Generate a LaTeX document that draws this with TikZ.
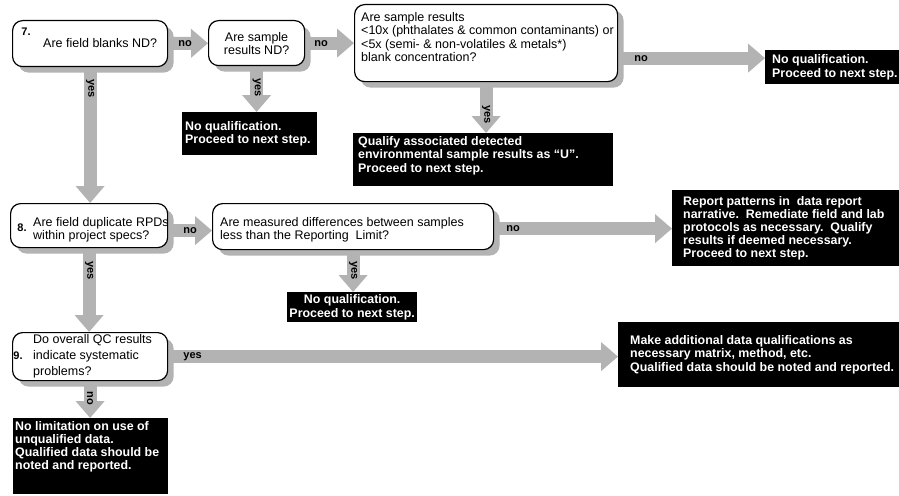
\documentclass[tikz,border=0pt]{standalone}
\usepackage{fontspec}
\setmainfont{Liberation Sans}
\usepackage{xcolor}
\usetikzlibrary{arrows.meta,positioning,calc,shadows,backgrounds}

\definecolor{flowgray}{RGB}{179,179,179}

\begin{document}
\begin{tikzpicture}[x=1pt,y=-1pt,
    qbox/.style={draw,line width=1.2pt,rounded corners=10pt,fill=white,anchor=north west,
      general shadow={fill=flowgray,shadow xshift=6pt,shadow yshift=-6pt}},
    qtext/.style={anchor=west,align=left,inner sep=0pt,font=\fontsize{12.5}{13.5}\selectfont},
    outbox/.style={fill=black,anchor=north west,inner sep=0pt},
    outtext/.style={anchor=west,align=left,inner sep=0pt,text=white,font=\bfseries\fontsize{12.4}{13.2}\selectfont},
    stepno/.style={inner sep=0pt,font=\bfseries\fontsize{11}{12}\selectfont},
    ans/.style={inner sep=0pt,font=\bfseries\fontsize{11}{12}\selectfont},
    vans/.style={ans,rotate=-90,anchor=west},
    flow/.style={flowgray,line width=13pt,-{Triangle[length=17pt,width=28pt]}}]
    \path[use as bounding box] (0,0) rectangle (899,495);

    % step 7
    \node[qbox,minimum width=155pt,minimum height=46pt] (q7) at (12,20) {};
    \node[stepno] (n7) at (26,32) {7.};
    \node[qtext] (t7) at ($(q7.west)+(31,-1)$) {Are field blanks ND?};
    \node[qbox,minimum width=96pt,minimum height=45pt,align=center,
      font=\fontsize{12.5}{13}\selectfont] (q7b) at (208,20) {Are sample\\results ND?};
    \node[qbox,minimum width=263pt,minimum height=77pt] (qbig) at (354,4) {};
    \node[qtext,anchor=north west] (tbig) at ($(qbig.north west)+(7,8)$)
      {Are sample results\\<10x (phthalates \& common contaminants) or\\<5x (semi- \& non-volatiles \& metals*)\\blank concentration?};
    \node[outbox,minimum width=134pt,minimum height=34pt] (noq1) at (765,50) {};
    \node[outtext,right=7pt of noq1.west] (tnoq1) {No qualification.\\Proceed to next step.};
    \node[outbox,minimum width=135pt,minimum height=43pt] (res7) at (182,112) {};
    \node[outtext,right=3pt of res7.west] (tres7) {No qualification.\\Proceed to next step.};
    \node[outbox,minimum width=260pt,minimum height=53pt] (qual) at (353,133) {};
    \node[outtext] (tqual) at ($(qual.west)+(5,-4)$)
      {Qualify associated detected\\environmental sample results as “U”.\\Proceed to next step.};

    % step 8
    \node[qbox,minimum width=157pt,minimum height=44pt] (q8) at (10,203) {};
    \node[stepno] (n8) at (22,228) {8.};
    \node[qtext] (t8) at ($(q8.west)+(23,4)$) {Are field duplicate RPDs\\within project specs?};
    \node[qbox,minimum width=281pt,minimum height=46pt] (qdiff) at (212,203) {};
    \node[qtext] (tdiff) at ($(qdiff.west)+(8,3)$)
      {Are measured differences between samples\\less than the Reporting\ \ Limit?};
    \node[outbox,minimum width=227pt,minimum height=76pt] (report) at (672,190) {};
    \node[outtext,right=11pt of report.west] (treport)
      {Report patterns in\ \ data report\\narrative.\ \ Remediate field and lab\\protocols as necessary.\ \ Qualify\\results if deemed necessary.\\Proceed to next step.};
    \node[outbox,minimum width=130pt,minimum height=30pt,text=white,align=center,
      font=\bfseries\fontsize{12.4}{13.2}\selectfont] (noq2) at (287,292) {No qualification.\\Proceed to next step.};

    % step 9
    \node[qbox,minimum width=155pt,minimum height=48pt] (q9) at (12,332) {};
    \node[stepno] (n9) at (18,356) {9.};
    \node[qtext,right=21pt of q9.west,font=\fontsize{12.5}{16}\selectfont] (t9)
      {Do overall QC results\\indicate systematic\\problems?};
    \node[outbox,minimum width=281pt,minimum height=65pt] (make) at (618,322) {};
    \node[outtext,right=12pt of make.west] (tmake)
      {Make additional data qualifications as\\necessary matrix, method, etc.\\Qualified data should be noted and reported.};
    \node[outbox,minimum width=155pt,minimum height=76pt] (nolim) at (13,418) {};
    \node[outtext,anchor=north west] (tnolim) at ($(nolim.north west)+(2,3)$)
      {No limitation on use of\\unqualified data.\\Qualified data should be\\noted and reported.};

    % connectors
    \begin{scope}[on background layer]
      \fill[white] (0,0) rectangle (899,495);
      \coordinate (a3) at ($(qbig.east)+(0,15)$);
      \coordinate (a7) at ($(q8.east)+(0,5)$);
      \coordinate (a8) at ($(qdiff.east)+(0,2)$);
      \draw[flow] (q7) -- (q7b);
      \draw[flow] (q7b) -- (qbig);
      \draw[flow] (a3) -- (a3 -| noq1.west);
      \draw[flow] (q7b.south) -- (q7b.south |- res7.north);
      \draw[flow] (qbig.south) -- (qbig.south |- qual.north);
      \draw[flow] (q7.south) -- (q7.south |- q8.north);
      \draw[flow] (a7) -- (a7 -| qdiff.west);
      \draw[flow] (a8) -- (a8 -| report.west);
      \draw[flow] (qdiff.south) -- (qdiff.south |- noq2.north);
      \draw[flow] (q8.south) -- (q8.south |- q9.north);
      \draw[flow] (q9.east) -- (q9.east -| make.west);
      \draw[flow] (q9.south) -- (q9.south |- nolim.north);
    \end{scope}

    \node[ans,right=10pt of q7.east] (no7) {no};
    \node[ans,right=9pt of q7b.east] (no7b) {no};
    \node[ans,right=16pt of a3] (nobig) {no};
    \node[vans] (yes7) at ($(q7.south)+(0,12)$) {yes};
    \node[vans] (yes7b) at ($(q7b.south)+(0,12)$) {yes};
    \node[vans] (yesbig) at ($(qbig.south)+(0,23)$) {yes};
    \node[ans,right=15pt of a7] (no8) {no};
    \node[ans,right=12pt of a8] (nodiff) {no};
    \node[vans] (yes8) at ($(q8.south)+(0,13)$) {yes};
    \node[vans] (yesdiff) at ($(qdiff.south)+(0,11)$) {yes};
    \node[ans,right=15pt of q9.east] (yes9) {yes};
    \node[vans] (no9) at ($(q9.south)+(0,10)$) {no};
\end{tikzpicture}
\end{document}
